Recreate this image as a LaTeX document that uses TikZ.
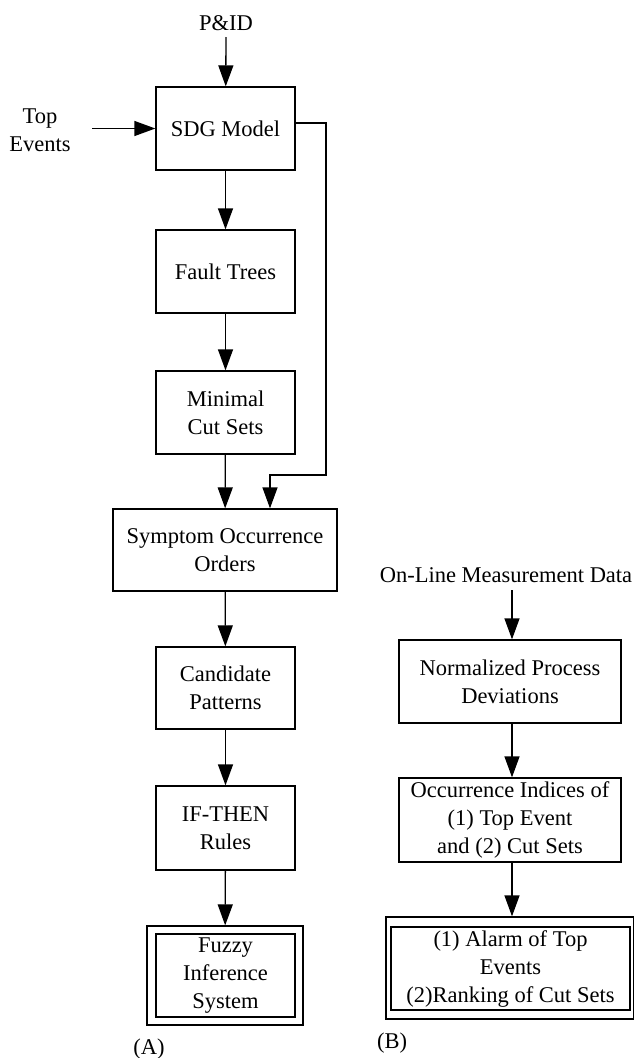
\documentclass[tikz,border=0pt]{standalone}
\usepackage{fontspec}
\setmainfont{Liberation Serif}
\usetikzlibrary{arrows.meta}

\begin{document}
\begin{tikzpicture}[x=1pt,y=-1pt,line join=miter,
  font=\fontsize{22.5}{28}\selectfont,
  arr/.style={-{Triangle[length=21pt,width=15pt]},line width=1.3pt},
  blk/.style={draw,line width=1.3pt,align=center,inner sep=0pt},
  lab/.style={align=center,inner sep=0pt}]

  \useasboundingbox (0,0) rectangle (634,1058);

  % ---- column (A) ----
  \node[lab] (pid) at (226,23) {P\&ID};
  \node[lab] (top) at (40,130) {Top\\Events};
  \node[blk,minimum width=139pt,minimum height=83pt] (sdg) at (225.5,128.5) {SDG Model};
  \node[blk,minimum width=139pt,minimum height=83pt] (fault) at (225.5,271.5) {Fault Trees};
  \node[blk,minimum width=139pt,minimum height=83pt] (mincut) at (225.5,412.5) {Minimal\\Cut Sets};
  \node[blk,minimum width=224pt,minimum height=82pt] (symptom) at (225,550) {Symptom Occurrence\\Orders};
  \node[blk,minimum width=139pt,minimum height=82pt] (cand) at (225.5,688) {Candidate\\Patterns};
  \node[blk,minimum width=139pt,minimum height=84pt] (ifthen) at (225.5,828) {IF-THEN\\Rules};
  \node[blk,minimum width=156pt,minimum height=99pt] (fuzzyout) at (225,975.5) {};
  \node[blk,minimum width=139pt,minimum height=83pt] (fuzzy) at (225.5,975.5) {Fuzzy\\Inference\\System};
  \node[lab] (capa) at (149,1049) {(A)};

  \coordinate (pidout) at (226,37);
  \coordinate (topout) at (92,128.5);
  \draw[arr] (pidout) -- (sdg);
  \draw[arr] (topout) -- (sdg.west);
  \draw[arr] (sdg) -- (fault);
  \draw[arr] (fault) -- (mincut);
  \draw[arr] (mincut) -- (symptom);
  \draw[arr] (symptom) -- (cand);
  \draw[arr] (cand) -- (ifthen);
  \draw[arr] (ifthen) -- (fuzzyout);

  % feedback from the model straight to the orders
  \coordinate (bend) at (326,475);
  \draw[arr] ([yshift=5.5pt]sdg.east) -| (bend) -| ([xshift=45pt]symptom.north);

  % ---- column (B) ----
  \node[lab] (online) at (506,575) {On-Line Measurement Data};
  \node[blk,minimum width=222pt,minimum height=83pt] (norm) at (510,681.5) {Normalized Process\\Deviations};
  \node[blk,minimum width=222pt,minimum height=84pt] (occ) at (510,820) {Occurrence Indices of\\(1) Top Event\\and (2) Cut Sets};
  \node[blk,minimum width=248pt,minimum height=102pt] (alarmout) at (510,968) {};
  \node[blk,minimum width=239pt,minimum height=83pt] (alarm) at (510.5,968.5) {(1) Alarm of Top\\Events\\(2)Ranking of Cut Sets};
  \node[lab] (capb) at (392,1043) {(B)};

  \coordinate (onlineout) at (512,590);
  \draw[arr] (onlineout) -- ([xshift=2pt]norm.north);
  \draw[arr] ([xshift=2pt]norm.south) -- ([xshift=2pt]occ.north);
  \draw[arr] ([xshift=2pt]occ.south) -- ([xshift=2pt]alarmout.north);
\end{tikzpicture}
\end{document}
